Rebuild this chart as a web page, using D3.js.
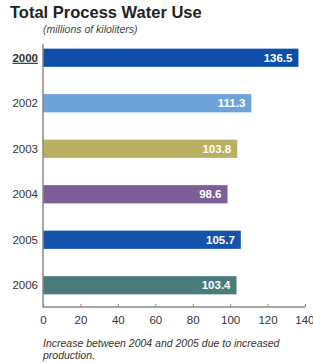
<!DOCTYPE html>
<html><head><meta charset="utf-8">
<script src="https://cdn.jsdelivr.net/npm/d3@7"></script>
<style>body{margin:0;background:#fff}svg{display:block}</style>
</head><body>
<svg id="c" width="313" height="363"></svg>
<script>
const years = ["2000","2002","2003","2004","2005","2006"];
const values = [136.5,111.3,103.8,98.6,105.7,103.4];
const colors = ["#0d4fa8","#6ea3da","#bab062","#7c5f98","#1353ab","#4a7c7b"];
const ticks = [0,20,40,60,80,100,120,140];

const svg = d3.select("#c");
const font = "Liberation Sans, Arial, sans-serif";
const x = d3.scaleLinear().domain([0,140]).range([43,305]);
const y = d3.scaleBand().domain(years).range([35,308]).paddingInner(0.6).paddingOuter(0.3);

svg.append("text").attr("x",10).attr("y",18).attr("font-family",font)
  .attr("font-weight","bold").attr("font-size",16.5).attr("fill","#222").text("Total Process Water Use");
svg.append("text").attr("x",43).attr("y",33).attr("font-family",font)
  .attr("font-style","italic").attr("font-size",10.5).attr("fill","#444").text("(millions of kiloliters)");

svg.selectAll("rect.bar").data(values).join("rect").attr("class","bar")
  .attr("x",x(0)).attr("y",(d,i)=>y(years[i])).attr("width",d=>x(d)-x(0))
  .attr("height",y.bandwidth()).attr("fill",(d,i)=>colors[i]);

svg.selectAll("text.val").data(values).join("text").attr("class","val")
  .attr("x",d=>x(d)-6).attr("y",(d,i)=>y(years[i])+y.bandwidth()/2+4)
  .attr("text-anchor","end").attr("font-family",font).attr("font-weight","bold")
  .attr("font-size",11.5).attr("fill","#fff").text(d=>d.toFixed(1));

svg.selectAll("text.yr").data(years).join("text").attr("class","yr")
  .attr("x",38).attr("y",d=>y(d)+y.bandwidth()/2+4).attr("text-anchor","end")
  .attr("font-family",font).attr("font-size",11.5)
  .attr("font-weight",(d,i)=>i===0?"bold":"normal")
  .attr("text-decoration",(d,i)=>i===0?"underline":"none")
  .attr("fill","#333").text(d=>d);

// axes
svg.append("line").attr("x1",43).attr("x2",43).attr("y1",44).attr("y2",307.5)
  .attr("stroke","#888").attr("stroke-width",1.5);
const ax = svg.append("g").attr("transform","translate(0,307)")
  .call(d3.axisBottom(x).tickValues(ticks).tickSize(-3).tickPadding(9).tickFormat(d3.format("d")));
ax.select(".domain").attr("stroke","#888").attr("stroke-width",1.5).attr("d","M43,0H305");
ax.selectAll(".tick line").attr("stroke","#888");
ax.selectAll(".tick text").attr("font-family",font).attr("font-size",11.5).attr("fill","#333")
  .attr("text-anchor",(d)=>d===140?"end":"middle").attr("dx",(d)=>d===140?"9":"0");

svg.append("text").attr("x",43).attr("y",347).attr("font-family",font)
  .attr("font-style","italic").attr("font-size",10.5).attr("fill","#333")
  .text("Increase between 2004 and 2005 due to increased");
svg.append("text").attr("x",43).attr("y",359).attr("font-family",font)
  .attr("font-style","italic").attr("font-size",10.5).attr("fill","#333")
  .text("production.");
</script>
</body></html>
